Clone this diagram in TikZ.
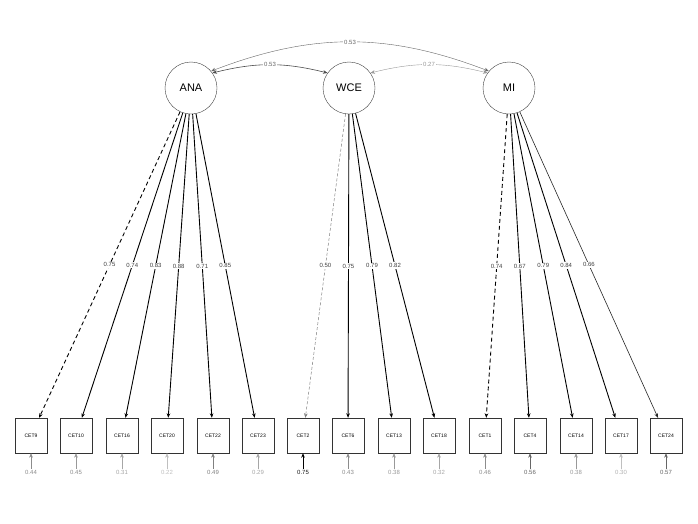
\documentclass[tikz,border=0pt]{standalone}
\usepackage{fontspec}
\setmainfont{Liberation Sans}
\usetikzlibrary{arrows.meta}

\begin{document}
\begin{tikzpicture}[x=1pt,y=-1pt,>={Stealth[length=4.5pt,width=3.6pt]},
  latent/.style ={circle, draw=black!75, thin, minimum size=52pt, inner sep=0pt, font=\fontsize{11}{12}\selectfont},
  item/.style ={rectangle, draw=black!80, thin, minimum width=32pt, minimum height=35pt, inner sep=0pt, font=\fontsize{5}{6}\selectfont},
  load/.style ={line width=0.9pt, black},
  wlbl/.style ={fill=white, inner sep=1pt, text=black!75, font=\fontsize{6}{7}\selectfont},
  rlbl/.style ={inner sep=1pt, font=\fontsize{6}{7}\selectfont}]
\useasboundingbox[fill=white] (0,0) rectangle (698,523);
% latent factors
\draw (191,88) node[latent] (ANA) {ANA};
\draw (349,88) node[latent] (WCE) {WCE};
\draw (509,88) node[latent] (MI)  {MI};
% indicators
\draw (31,435.5)  node[item] (CET9)  {CET9};
\draw (76,435.5)  node[item] (CET10) {CET10};
\draw (122,435.5) node[item] (CET16) {CET16};
\draw (167,435.5) node[item] (CET20) {CET20};
\draw (213,435.5) node[item] (CET22) {CET22};
\draw (258,435.5) node[item] (CET23) {CET23};
\draw (303,435.5) node[item] (CET2)  {CET2};
\draw (348,435.5) node[item] (CET6)  {CET6};
\draw (394,435.5) node[item] (CET13) {CET13};
\draw (439,435.5) node[item] (CET18) {CET18};
\draw (485,435.5) node[item] (CET1)  {CET1};
\draw (530,435.5) node[item] (CET4)  {CET4};
\draw (576,435.5) node[item] (CET14) {CET14};
\draw (621,435.5) node[item] (CET17) {CET17};
\draw (666,435.5) node[item] (CET24) {CET24};
% covariances
\draw [<->, black!70, line width=0.6pt] (ANA.35) to[bend left=14] node[wlbl,text=black!60] {0.53} (WCE.145);
\draw [<->, black!40, thin] (WCE.35) to[bend left=14] node[wlbl,text=black!40] {0.27} (MI.145);
\draw [<->, black!60, thin] (ANA.40) to[bend left=21] node[wlbl,text=black!60] {0.53} (MI.140);
% loadings
\draw [load, ->, dash pattern=on 4pt off 3pt] (ANA) -- (CET9) node[wlbl,midway] {0.75};
\draw [load, ->] (ANA) -- (CET10) node[wlbl,midway] {0.74};
\draw [load, ->] (ANA) -- (CET16) node[wlbl,midway] {0.83};
\draw [load, ->] (ANA) -- (CET20) node[wlbl,midway] {0.88};
\draw [load, ->] (ANA) -- (CET22) node[wlbl,midway] {0.71};
\draw [load, ->] (ANA) -- (CET23) node[wlbl,midway] {0.85};
\draw [->, line width=0.5pt, black!50, dash pattern=on 3pt off 2pt] (WCE) -- (CET2) node[wlbl,midway] {0.50};
\draw [load, ->] (WCE) -- (CET6) node[wlbl,midway] {0.75};
\draw [load, ->] (WCE) -- (CET13) node[wlbl,midway] {0.79};
\draw [load, ->] (WCE) -- (CET18) node[wlbl,midway] {0.82};
\draw [load, ->, dash pattern=on 4pt off 3pt] (MI) -- (CET1) node[wlbl,midway] {0.74};
\draw [load, ->] (MI) -- (CET4) node[wlbl,midway] {0.67};
\draw [load, ->] (MI) -- (CET14) node[wlbl,midway] {0.79};
\draw [load, ->] (MI) -- (CET17) node[wlbl,midway] {0.84};
\draw [->, line width=0.6pt, black!85] (MI) -- (CET24) node[wlbl,midway] {0.66};
% residual variances
\draw (31,472)  node[rlbl,text=black!45] (r9)  {0.44};
\draw (76,472)  node[rlbl,text=black!45] (r10) {0.45};
\draw (122,472) node[rlbl,text=black!35] (r16) {0.31};
\draw (167,472) node[rlbl,text=black!25] (r20) {0.22};
\draw (213,472) node[rlbl,text=black!50] (r22) {0.49};
\draw (258,472) node[rlbl,text=black!35] (r23) {0.29};
\draw (303,472) node[rlbl,text=black!90] (r2)  {0.75};
\draw (348,472) node[rlbl,text=black!45] (r6)  {0.43};
\draw (394,472) node[rlbl,text=black!40] (r13) {0.38};
\draw (439,472) node[rlbl,text=black!35] (r18) {0.32};
\draw (485,472) node[rlbl,text=black!45] (r1)  {0.46};
\draw (530,472) node[rlbl,text=black!60] (r4)  {0.56};
\draw (576,472) node[rlbl,text=black!40] (r14) {0.38};
\draw (621,472) node[rlbl,text=black!30] (r17) {0.30};
\draw (666,472) node[rlbl,text=black!60] (r24) {0.57};
\draw [->, thin, black!45] (r9) -- (CET9);
\draw [->, thin, black!40] (r10) -- (CET10);
\draw [->, thin, black!35] (r16) -- (CET16);
\draw [->, thin, black!25] (r20) -- (CET20);
\draw [->, thin, black!50] (r22) -- (CET22);
\draw [->, thin, black!35] (r23) -- (CET23);
\draw [->, line width=0.9pt, black] (r2) -- (CET2);
\draw [->, thin, black!45] (r6) -- (CET6);
\draw [->, thin, black!40] (r13) -- (CET13);
\draw [->, thin, black!35] (r18) -- (CET18);
\draw [->, thin, black!45] (r1) -- (CET1);
\draw [->, line width=0.6pt, black!60] (r4) -- (CET4);
\draw [->, thin, black!40] (r14) -- (CET14);
\draw [->, thin, black!25] (r17) -- (CET17);
\draw [->, line width=0.6pt, black!60] (r24) -- (CET24);

\end{tikzpicture}
\end{document}
